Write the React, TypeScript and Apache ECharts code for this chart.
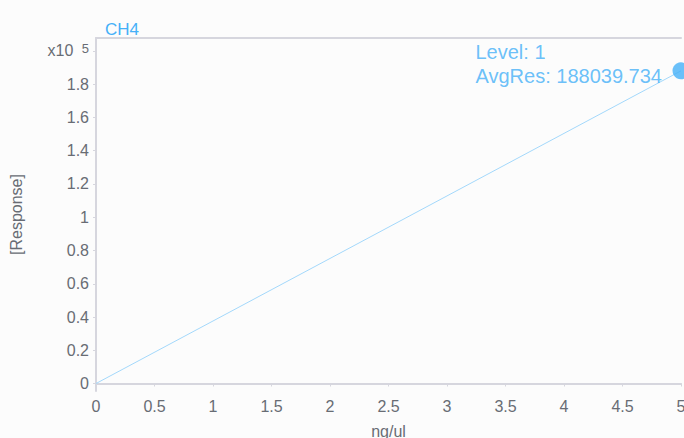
import React, { useEffect, useRef } from "react";
import * as echarts from "echarts";

const titleText = "CH4";
const xAxisName = "ng/ul";
const yAxisName = "[Response]";
const levels = [1];
const concentrations = [5];
const avgResponses = [188039.734];
const fitOrigin = [0, 0];
const yTickValues = [0, 20000, 40000, 60000, 80000, 100000, 120000, 140000, 160000, 180000, 200000];
const yTickLabels = ["0", "0.2", "0.4", "0.6", "0.8", "1", "1.2", "1.4", "1.6", "1.8", "{a|x10 }{b|5}"];
const xMin = 0;
const xMax = 5;
const xInterval = 0.5;
const yMin = -4500;
const yMax = 207800;

const blue = "#45b0f8";
const labelGrey = "#686c74";
const axisGrey = "#d6d6de";
const font = "'Liberation Sans', Arial, sans-serif";

export default function App() {
  const ref = useRef<HTMLDivElement>(null);
  useEffect(() => {
    if (!ref.current) return;
    const chart = echarts.init(ref.current, undefined, { renderer: "svg" });
    const lastIdx = concentrations.length - 1;
    const fitLine = [fitOrigin, [concentrations[lastIdx], avgResponses[lastIdx]]];
    const points = concentrations.map((c, i) => ({
      value: [c, avgResponses[i]],
      level: levels[i],
    }));
    chart.setOption({
      animation: false,
      backgroundColor: "#fcfcfc",
      textStyle: { fontFamily: font },
      title: {
        text: titleText,
        left: 100,
        top: 16,
        textStyle: { color: blue, fontSize: 17, fontWeight: "normal", fontFamily: font },
      },
      grid: {
        left: 96,
        right: 3,
        top: 38,
        bottom: 47,
        containLabel: false,
        outerBoundsMode: "none",
      },
      xAxis: [
        {
          type: "value",
          min: xMin,
          max: xMax,
          interval: xInterval,
          name: xAxisName,
          nameLocation: "middle",
          nameGap: 32,
          nameTextStyle: { color: labelGrey, fontSize: 16, fontFamily: font },
          axisLine: { show: true, lineStyle: { color: axisGrey, width: 2 } },
          axisTick: { show: true, length: 3, lineStyle: { color: axisGrey } },
          axisLabel: { color: labelGrey, fontSize: 16, margin: 7, fontFamily: font },
          splitLine: { show: false },
        },
        {
          type: "value",
          position: "top",
          min: xMin,
          max: xMax,
          interval: xInterval,
          axisLine: { show: true, lineStyle: { color: axisGrey, width: 2 } },
          axisTick: { show: false },
          axisLabel: { show: false },
          splitLine: { show: false },
        },
      ],
      yAxis: {
        type: "value",
        min: yMin,
        max: yMax,
        name: yAxisName,
        nameLocation: "middle",
        nameGap: 72,
        nameTextStyle: { color: labelGrey, fontSize: 16, fontFamily: font },
        axisLine: { show: true, lineStyle: { color: axisGrey, width: 2 } },
        axisTick: {
          show: true,
          length: 3,
          customValues: yTickValues,
          lineStyle: { color: axisGrey },
        },
        axisLabel: {
          customValues: yTickValues,
          color: labelGrey,
          fontSize: 16,
          margin: 7,
          fontFamily: font,
          formatter: (v: number) => {
            const i = yTickValues.indexOf(Math.round(v));
            return i >= 0 ? yTickLabels[i] : "";
          },
          rich: {
            a: { color: labelGrey, fontSize: 16, fontFamily: font },
            b: { color: labelGrey, fontSize: 13, fontFamily: font, padding: [0, 0, 4, 4] },
          },
        },
        splitLine: { show: false },
      },
      series: [
        {
          type: "line",
          data: fitLine,
          showSymbol: false,
          symbol: "none",
          lineStyle: { color: "#a3d8fb", width: 1 },
          z: 2,
        },
        {
          type: "scatter",
          data: points,
          symbolSize: 17,
          itemStyle: { color: blue },
          label: {
            show: true,
            position: "left",
            distance: 5,
            offset: [0, -7],
            color: blue,
            fontFamily: font,
            formatter: (p: any) =>
              `{t|Level: ${p.data.level}}\n{t|AvgRes: ${p.data.value[1]}}`,
            rich: {
              t: {
                color: blue,
                fontSize: 20,
                lineHeight: 24,
                fontFamily: font,
                width: 192,
                align: "left",
              },
            },
          },
          z: 3,
        },
      ],
    });
    return () => chart.dispose();
  }, []);
  return (
    <div
      ref={ref}
      style={{ position: "fixed", left: 0, top: 0, width: 684, height: 438 }}
    />
  );
}
